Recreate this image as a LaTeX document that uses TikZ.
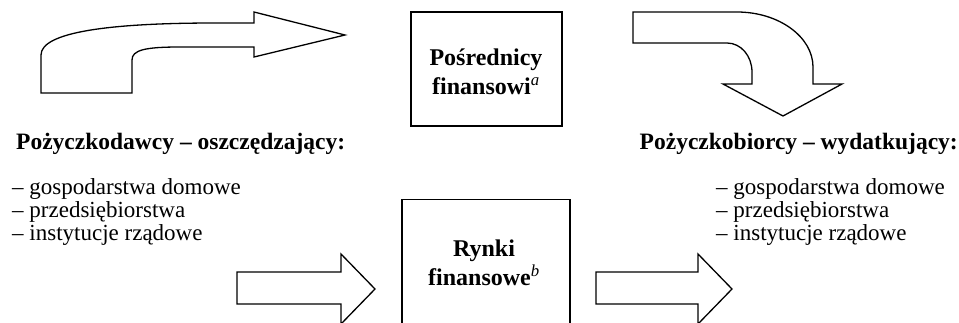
\documentclass[tikz,border=0pt]{standalone}
\usepackage{fontspec}
\setmainfont{Liberation Serif}
\tikzset{
  blockarrow/.style = {draw, line width = 1.3pt, line join = miter},
  finbox/.style = {draw, line width = 1.3pt, inner sep = 0pt},
  boxtext/.style = {align = center, font = \fontsize{24}{29}\selectfont\bfseries},
  headtext/.style = {inner sep = 0pt, font = \fontsize{23.5}{26}\selectfont\bfseries},
  listtext/.style = {inner sep = 0pt, align = left, font = \fontsize{23}{23}\selectfont}
}
\begin{document}
\begin{tikzpicture}[x = 1pt, y = -1pt]
  \useasboundingbox (0,0) rectangle (959,322);
  \clip (0,0) rectangle (959,322);

  % curved arrow to the intermediaries
  \draw[blockarrow] (41,93) -- (41,55) .. controls (41,32) and (110,23) .. (215,23) -- (254,23) -- (254,12)
        -- (345,35) -- (254,57) -- (254,47) -- (180,47) .. controls (145,47) and (132,50) .. (132,60) -- (132,93) -- cycle;
  % curved arrow down to the borrowers
  \draw[blockarrow] (633,12) -- (737,12) .. controls (779,12) and (813,37) .. (813,67) -- (813,84) -- (842,84)
        -- (783,116) -- (723,84) -- (752,84) -- (752,72) .. controls (752,56) and (741,43) .. (727,43) -- (633,43) -- cycle;

  \node[finbox, minimum width = 151pt, minimum height = 114pt] (posrednicy) at (486.5,69) {};
  \node[boxtext] (posrednicytxt) at (486,72) {Pośrednicy\\finansowi\textsuperscript{\normalfont\itshape a}};

  \node[headtext, anchor = base west] (lenders) at (16,149) {Pożyczkodawcy -- oszczędzający:};
  \node[headtext, anchor = base east] (borrowers) at (958,149) {Pożyczkobiorcy -- wydatkujący:};

  \node[listtext, anchor = north west] (lenderlist) at (12,178) {-- gospodarstwa domowe\\-- przedsiębiorstwa\\-- instytucje rządowe};
  \node[listtext, anchor = north west] (borrowerlist) at (716,178) {-- gospodarstwa domowe\\-- przedsiębiorstwa\\-- instytucje rządowe};

  \node[finbox, anchor = north, minimum width = 168pt, minimum height = 200pt] (rynki) at (486,199) {};
  \node[boxtext] (rynkitxt) at (484,263) {Rynki\\finansowe\textsuperscript{\normalfont\itshape b}};

  % straight arrows through the markets
  \draw[blockarrow] (237,272) -- (341,272) -- (341,254) -- (375,289) -- (341,324) -- (341,304) -- (237,304) -- cycle;
  \draw[blockarrow] (596,272) -- (698,272) -- (698,254) -- (732,289) -- (698,324) -- (698,304) -- (596,304) -- cycle;
\end{tikzpicture}
\end{document}
